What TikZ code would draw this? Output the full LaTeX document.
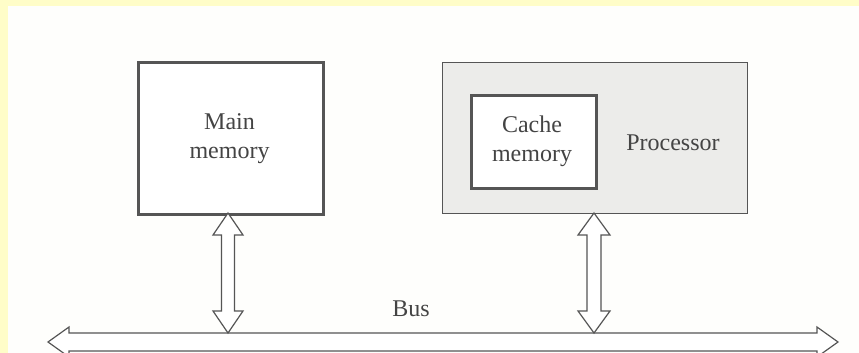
\documentclass[tikz,border=0pt]{standalone}
\usepackage{fontspec}
\setmainfont{Liberation Serif}
\usetikzlibrary{calc}
\definecolor{ink}{HTML}{555555}
\definecolor{paper}{HTML}{FEFEFC}
\definecolor{margin}{HTML}{FFFDC8}
\definecolor{procfill}{HTML}{ECECEA}
\tikzset{
  thickbox/.style={draw=ink, line width=2.8pt, fill=white},
  procbox/.style={draw=ink, line width=1pt, fill=procfill},
  fat/.style={draw=ink, line width=1.2pt, fill=white, line join=miter},
  lbl/.style={font=\fontsize{24}{29}\selectfont, text=ink!80!black, align=center, inner sep=0pt}
}
% vertical fat double arrow: #1 top tip, #2 bottom tip, #3 half shaft, #4 half head, #5 head length
\newcommand\vfatarrow[5]{%
  \draw[fat] let \p1=(#1), \p2=(#2) in
    (\x1,\y1) -- (\x1+#4,\y1-#5) -- (\x1+#3,\y1-#5) -- (\x1+#3,\y2+#5)
    -- (\x1+#4,\y2+#5) -- (\x1,\y2) -- (\x1-#4,\y2+#5) -- (\x1-#3,\y2+#5)
    -- (\x1-#3,\y1-#5) -- (\x1-#4,\y1-#5) -- cycle;}
% horizontal fat double arrow: #1 left tip, #2 right tip
\newcommand\hfatarrow[5]{%
  \draw[fat] let \p1=(#1), \p2=(#2) in
    (\x1,\y1) -- (\x1+#5,\y1+#4) -- (\x1+#5,\y1+#3) -- (\x2-#5,\y1+#3)
    -- (\x2-#5,\y1+#4) -- (\x2,\y1) -- (\x2-#5,\y1-#4) -- (\x2-#5,\y1-#3)
    -- (\x1+#5,\y1-#3) -- (\x1+#5,\y1-#4) -- cycle;}
\begin{document}
\begin{tikzpicture}[x=1pt,y=-1pt]
  \useasboundingbox (0,0) rectangle (859,353);
  \clip (0,0) rectangle (859,353);
  \fill[paper] (0,0) rectangle (859,353);
  \fill[margin] (0,0) rectangle (859,6);
  \fill[margin] (0,0) rectangle (8,353);

  % boxes
  \node[thickbox, minimum width=185pt, minimum height=152pt, anchor=north west] (mm) at (137,61) {};
  \node[lbl] (mmlbl) at (229.5,139) {Main\\memory};
  \node[procbox, minimum width=305pt, minimum height=151pt, anchor=north west] (proc) at (442,62) {};
  \node[thickbox, minimum width=125pt, minimum height=93pt, anchor=north west] (cache) at (470,94) {};
  \node[lbl] (cachelbl) at (532,141) {Cache\\memory};
  \node[lbl] (proclbl) at (673,143) {Processor};

  % bus
  \coordinate (busL) at (48,342);
  \coordinate (busR) at (838,342);
  \hfatarrow{busL}{busR}{9pt}{15pt}{21pt}
  \node[lbl] (buslbl) at (411,309) {Bus};

  % bus connections
  \coordinate (mmbus) at (228,333);
  \coordinate (procbus) at (594,333);
  \coordinate (mmtop) at (228,213);
  \coordinate (proctop) at (594,213);
  \vfatarrow{mmtop}{mmbus}{6.5pt}{15pt}{22pt}
  \vfatarrow{proctop}{procbus}{7pt}{16pt}{22pt}
\end{tikzpicture}
\end{document}
